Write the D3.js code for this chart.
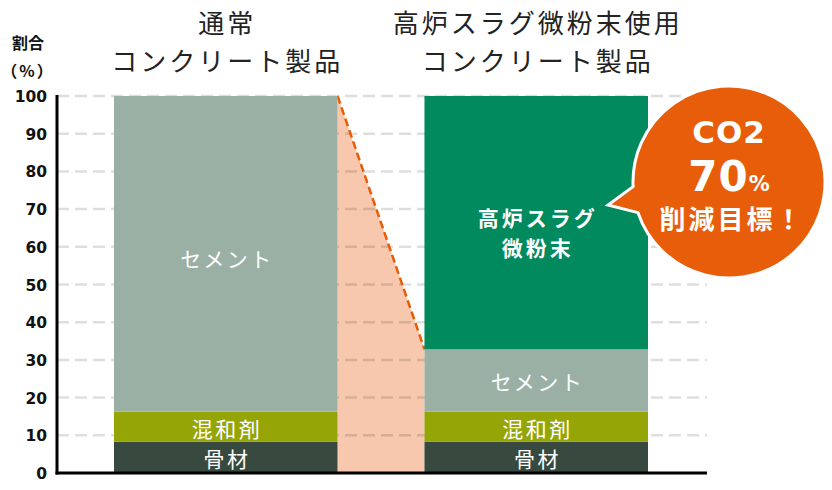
<!DOCTYPE html>
<html><head><meta charset="utf-8">
<script src="https://cdn.jsdelivr.net/npm/d3@7"></script>
<style>
html,body{margin:0;padding:0;background:#fff;}
svg{display:block;}
</style></head>
<body>
<svg id="c" width="832" height="490"></svg>
<script>
// ---- data ----
const categories = ["normal", "slag"];
const titleLine1 = ["通常", "高炉スラグ微粉末使用"];
const titleLine2 = ["コンクリート製品", "コンクリート製品"];
const components = ["骨材", "混和剤", "セメント", "高炉スラグ微粉末"];
const componentLabels = [["骨材"], ["混和剤"], ["セメント"], ["高炉スラグ", "微粉末"]];
const normalValues = [8.3, 8.0, 83.7, 0];
const slagValues = [8.3, 8.0, 16.5, 67.2];
const yTicks = [0, 10, 20, 30, 40, 50, 60, 70, 80, 90, 100];
const yAxisTitle = ["割合", "（%）"];
const bubbleLines = ["CO2", "70", "%", "削減目標！"];

const colors = ["#384a40", "#95a506", "#9bb0a5", "#008a5e"];
const JP = "'Noto Sans CJK JP','Noto Sans',sans-serif";
const NUM = "'DejaVu Sans','Noto Sans',sans-serif";

const svg = d3.select("#c");
const y = d3.scaleLinear().domain([0, 100]).range([473, 96]);
const x = d3.scaleBand().domain(categories).range([114, 648]).paddingInner(0.28).paddingOuter(0);
const axisRight = 707;
const axisLeft = 57;

const series = { normal: normalValues, slag: slagValues };
const stacked = categories.map(c => {
  let acc = 0;
  return series[c].map((v, i) => { const s = { cat: c, i, y0: acc, y1: acc + v }; acc += v; return s; });
});

// pink reduction area
const b1 = x("normal") + x.bandwidth();
const b2 = x("slag");
const slagTop = stacked[1][2].y1;
svg.append("path")
  .attr("d", d3.line()([[b1, y(100)], [b2, y(slagTop)], [b2, y(0)], [b1, y(0)]]) + "Z")
  .attr("fill", "#f7c8ad");

// gridlines
svg.append("g").selectAll("line").data(yTicks.filter(d => d > 0)).join("line")
  .attr("x1", axisLeft).attr("x2", axisRight)
  .attr("y1", d => y(d)).attr("y2", d => y(d))
  .attr("stroke", "rgba(0,0,0,0.13)").attr("stroke-width", 2.5)
  .attr("stroke-dasharray", "12 6");

// dashed orange line
svg.append("line")
  .attr("x1", b1).attr("y1", y(100)).attr("x2", b2).attr("y2", y(slagTop))
  .attr("stroke", "#e85d04").attr("stroke-width", 2.5).attr("stroke-dasharray", "8 4");

// bars
const flat = stacked.flat().filter(d => d.y1 > d.y0);
svg.append("g").selectAll("rect").data(flat).join("rect")
  .attr("x", d => x(d.cat)).attr("width", x.bandwidth())
  .attr("y", d => y(d.y1)).attr("height", d => y(d.y0) - y(d.y1))
  .attr("fill", d => colors[d.i]);

// bar labels
flat.forEach(d => {
  const lines = componentLabels[d.i];
  const cx = x(d.cat) + x.bandwidth() / 2;
  const mid = y((d.y0 + d.y1) / 2);
  const bold = d.i === 3;
  const ls = bold ? 3 : 2.5;
  const lh = 30;
  const start = bold ? mid - 6 : mid + (d.i === 2 && d.cat === "normal" ? 4 : 1);
  lines.forEach((t, k) => {
    svg.append("text").text(t)
      .attr("x", cx + ls / 2).attr("y", start + k * lh)
      .attr("text-anchor", "middle").attr("dominant-baseline", "central")
      .attr("fill", "#fff").attr("font-family", JP)
      .attr("font-size", 21).attr("font-weight", bold ? 700 : 400)
      .attr("letter-spacing", ls);
  });
});

// axes
svg.append("line").attr("x1", axisLeft).attr("x2", axisLeft).attr("y1", y(100) - 1).attr("y2", y(0) + 1.5)
  .attr("stroke", "#000").attr("stroke-width", 3);
svg.append("line").attr("x1", axisLeft - 1.5).attr("x2", axisRight).attr("y1", y(0)).attr("y2", y(0))
  .attr("stroke", "#000").attr("stroke-width", 3);

// y tick labels
svg.append("g").selectAll("text").data(yTicks).join("text")
  .text(d => d)
  .attr("x", 47).attr("y", d => y(d) + 1)
  .attr("text-anchor", "end").attr("dominant-baseline", "central")
  .attr("font-family", NUM).attr("font-weight", 700).attr("font-size", 15.5).attr("fill", "#111");

// y axis title
yAxisTitle.forEach((t, k) => {
  svg.append("text").text(t)
    .attr("x", 28).attr("y", 42 + k * 28)
    .attr("text-anchor", "middle").attr("dominant-baseline", "central")
    .attr("font-family", JP).attr("font-weight", 700).attr("font-size", 16).attr("fill", "#111")
    .attr("letter-spacing", k === 1 ? 2 : 0);
});

// column titles
categories.forEach((c, i) => {
  const cx = x(c) + x.bandwidth() / 2;
  [titleLine1[i], titleLine2[i]].forEach((t, k) => {
    svg.append("text").text(t)
      .attr("x", cx + 1.5).attr("y", 21 + k * 38)
      .attr("text-anchor", "middle").attr("dominant-baseline", "central")
      .attr("font-family", JP).attr("font-size", 26).attr("fill", "#222")
      .attr("letter-spacing", 3);
  });
});

// bubble
const bc = [729, 182], br = 96;
const tip = [608, 205];
const bubble = d3.path();
const angUp = Math.atan2(187 - bc[1], 625 - bc[0]);
const angLo = Math.atan2(213 - bc[1], 637 - bc[0]);
bubble.moveTo(bc[0] + br * Math.cos(angUp), bc[1] + br * Math.sin(angUp));
bubble.arc(bc[0], bc[1], br, angUp, angLo + 2 * Math.PI, false);
bubble.lineTo(tip[0], tip[1]);
bubble.closePath();
svg.append("path").attr("d", bubble.toString())
  .attr("fill", "#e85d0a").attr("stroke", "#fff").attr("stroke-width", 3).attr("stroke-linejoin", "miter");

svg.append("text").text(bubbleLines[0])
  .attr("x", 729).attr("y", 143).attr("text-anchor", "middle")
  .attr("font-family", NUM).attr("font-weight", 700).attr("font-size", 31).attr("fill", "#fff")
  .attr("letter-spacing", 1);
const t70 = svg.append("text").attr("x", 729).attr("y", 191).attr("text-anchor", "middle")
  .attr("font-family", NUM).attr("font-weight", 700).attr("fill", "#fff");
t70.append("tspan").text(bubbleLines[1]).attr("font-size", 42).attr("letter-spacing", 1);
t70.append("tspan").text(bubbleLines[2]).attr("font-size", 21);
svg.append("text").text(bubbleLines[3])
  .attr("x", 732).attr("y", 229).attr("text-anchor", "middle")
  .attr("font-family", JP).attr("font-weight", 700).attr("font-size", 26).attr("fill", "#fff")
  .attr("letter-spacing", 3);
</script>
</body></html>
